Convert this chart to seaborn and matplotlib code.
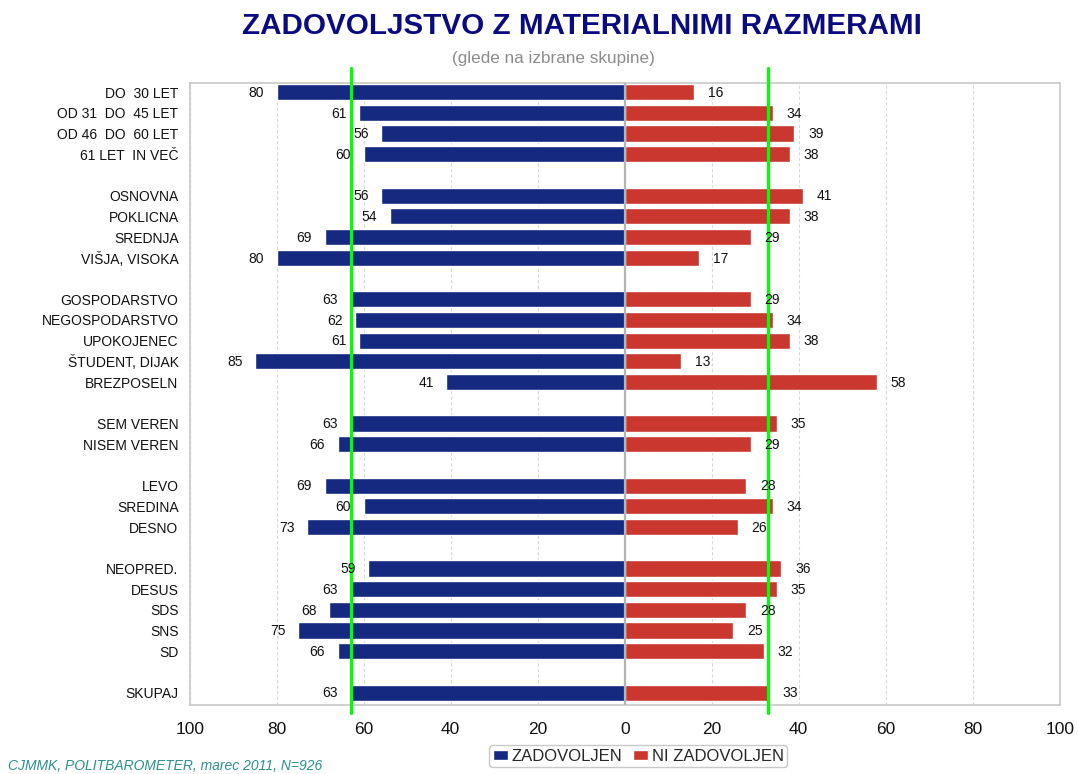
import matplotlib

matplotlib.use("Agg")
import matplotlib.pyplot as plt
import pandas as pd
import seaborn as sns
from matplotlib.patches import Patch

# --- data ------------------------------------------------------------------
groups = [
    ["DO  30 LET", "OD 31  DO  45 LET", "OD 46  DO  60 LET", "61 LET  IN VEČ"],
    ["OSNOVNA", "POKLICNA", "SREDNJA", "VIŠJA, VISOKA"],
    ["GOSPODARSTVO", "NEGOSPODARSTVO", "UPOKOJENEC", "ŠTUDENT, DIJAK", "BREZPOSELN"],
    ["SEM VEREN", "NISEM VEREN"],
    ["LEVO", "SREDINA", "DESNO"],
    ["NEOPRED.", "DESUS", "SDS", "SNS", "SD"],
    ["SKUPAJ"],
]
zadovoljen = [80, 61, 56, 60, 56, 54, 69, 80, 63, 62, 61, 85, 41, 63, 66,
              69, 60, 73, 59, 63, 68, 75, 66, 63]
ni_zadovoljen = [16, 34, 39, 38, 41, 38, 29, 17, 29, 34, 38, 13, 58, 35, 29,
                 28, 34, 26, 36, 35, 28, 25, 32, 33]
x_ticks = [-100, -80, -60, -40, -20, 0, 20, 40, 60, 80, 100]

BLUE = "#14297f"
RED = "#c9372f"
GREEN = "#00ff00"

categories = [c for g in groups for c in g]
# order with blank spacer rows between groups
order = []
for i, g in enumerate(groups):
    if i > 0:
        order.append(" " * i)
    order.extend(g)

df = pd.DataFrame({
    "skupina": categories,
    "zad": [-v for v in zadovoljen],
    "ni": ni_zadovoljen,
})
skupaj_zad = zadovoljen[-1]
skupaj_ni = ni_zadovoljen[-1]

# --- figure -----------------------------------------------------------------
sns.set_theme(style="white")
plt.rcParams["font.family"] = ["Liberation Sans", "DejaVu Sans"]

fig = plt.figure(figsize=(10.78, 7.74), dpi=100)
ax = fig.add_axes([0.176, 0.089, 0.807, 0.804])

sns.barplot(data=df, x="zad", y="skupina", order=order, color=BLUE,
            width=0.78, orient="h", ax=ax, saturation=1,
            edgecolor="white", linewidth=1, zorder=2)
sns.barplot(data=df, x="ni", y="skupina", order=order, color=RED,
            width=0.78, orient="h", ax=ax, saturation=1,
            edgecolor="white", linewidth=1, zorder=2)

# value labels
for cat, v_z, v_n in zip(categories, zadovoljen, ni_zadovoljen):
    y = order.index(cat)
    ax.annotate(f"{v_z}", (-v_z, y), xytext=(-9, -0.5), textcoords="offset points",
                ha="right", va="center", fontsize=10, color="#111111", zorder=5)
    ax.annotate(f"{v_n}", (v_n, y), xytext=(10, -0.5), textcoords="offset points",
                ha="left", va="center", fontsize=10, color="#111111", zorder=5)

ax.set_xlim(-100, 100)
ax.set_ylim(len(order) - 0.4, -0.45)
ax.set_xticks(x_ticks)
ax.set_xticklabels([str(abs(t)) for t in x_ticks], fontsize=12.5, color="#111111")
ax.tick_params(axis="x", length=0, pad=12)
ax.tick_params(axis="y", length=0, pad=8, labelsize=10, labelcolor="#111111")
ax.set_xlabel("")
ax.set_ylabel("")

ax.grid(axis="x", linestyle=(0, (3, 2)), color="#d9d9d9", linewidth=0.8, zorder=0)
ax.set_axisbelow(True)
for s in ax.spines.values():
    s.set_color("#c8c8c8")
    s.set_linewidth(1.2)

ax.axvline(0, color="#b5b5b5", linewidth=1.6, zorder=3)

# reference lines (SKUPAJ values)
for xv in (-skupaj_zad, skupaj_ni):
    ax.axvline(xv, ymin=-0.012, ymax=1.024, color=GREEN, linewidth=2.3,
               clip_on=False, zorder=4)

# titles
fig.text(0.54, 0.966, "ZADOVOLJSTVO Z MATERIALNIMI RAZMERAMI", ha="center",
         va="center", fontsize=21.3, fontweight="bold", color="#0a0a82")
fig.text(0.513, 0.925, "(glede na izbrane skupine)", ha="center", va="center",
         fontsize=12.3, color="#8c8c8c")
fig.text(0.007, 0.010, "CJMMK, POLITBAROMETER, marec 2011, N=926", ha="left",
         va="center", fontsize=10, style="italic", color="#2a8f8f")

handles = [Patch(facecolor=BLUE, label="ZADOVOLJEN"),
           Patch(facecolor=RED, label="NI ZADOVOLJEN")]
fig.legend(handles=handles, loc="center", bbox_to_anchor=(0.592, 0.023),
           ncol=2, fontsize=12, frameon=True, fancybox=True, edgecolor="#bbbbbb",
           handlelength=0.9, handleheight=0.55, handletextpad=0.25,
           columnspacing=0.6, borderpad=0.2, borderaxespad=0)

fig.savefig("out.png", dpi=100)
